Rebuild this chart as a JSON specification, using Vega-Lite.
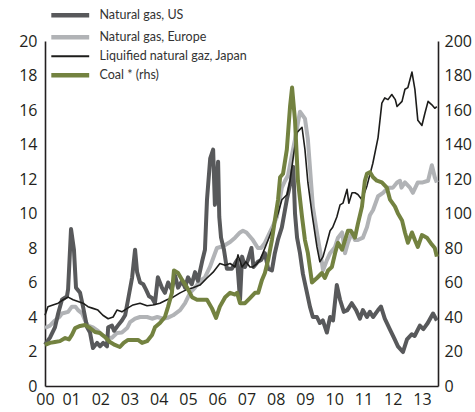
{
  "$schema": "https://vega.github.io/schema/vega-lite/v6.json",
  "width": 393,
  "height": 345,
  "autosize": {"type": "none"},
  "padding": {"left": 45, "top": 41, "right": 37, "bottom": 26},
  "background": "white",
  "config": {
    "view": {"stroke": null},
    "font": "Open Sans",
    "axis": {"grid": false, "ticks": false, "domainColor": "#231f20", "domainWidth": 1.6, "labelColor": "#231f20", "labelFontSize": 16, "title": null}
  },
  "datasets": {
    "gas": [
      {"t": 2000.11, "s": "Natural gas, US", "v": 2.4},
      {"t": 2000.28, "s": "Natural gas, US", "v": 2.8},
      {"t": 2000.45, "s": "Natural gas, US", "v": 3.4},
      {"t": 2000.56, "s": "Natural gas, US", "v": 4.2},
      {"t": 2000.69, "s": "Natural gas, US", "v": 5.0},
      {"t": 2000.86, "s": "Natural gas, US", "v": 5.2},
      {"t": 2000.9, "s": "Natural gas, US", "v": 5.6},
      {"t": 2001.0, "s": "Natural gas, US", "v": 9.1},
      {"t": 2001.1, "s": "Natural gas, US", "v": 7.9},
      {"t": 2001.17, "s": "Natural gas, US", "v": 5.7},
      {"t": 2001.31, "s": "Natural gas, US", "v": 5.4},
      {"t": 2001.41, "s": "Natural gas, US", "v": 4.6},
      {"t": 2001.55, "s": "Natural gas, US", "v": 3.4},
      {"t": 2001.65, "s": "Natural gas, US", "v": 3.1},
      {"t": 2001.75, "s": "Natural gas, US", "v": 2.2},
      {"t": 2001.89, "s": "Natural gas, US", "v": 2.5},
      {"t": 2001.99, "s": "Natural gas, US", "v": 2.3},
      {"t": 2002.1, "s": "Natural gas, US", "v": 2.5},
      {"t": 2002.23, "s": "Natural gas, US", "v": 2.3},
      {"t": 2002.27, "s": "Natural gas, US", "v": 3.4},
      {"t": 2002.4, "s": "Natural gas, US", "v": 3.5},
      {"t": 2002.47, "s": "Natural gas, US", "v": 3.2},
      {"t": 2002.6, "s": "Natural gas, US", "v": 3.5},
      {"t": 2002.74, "s": "Natural gas, US", "v": 3.8},
      {"t": 2002.85, "s": "Natural gas, US", "v": 4.1},
      {"t": 2002.95, "s": "Natural gas, US", "v": 5.0},
      {"t": 2003.09, "s": "Natural gas, US", "v": 6.3},
      {"t": 2003.19, "s": "Natural gas, US", "v": 7.9},
      {"t": 2003.26, "s": "Natural gas, US", "v": 6.6},
      {"t": 2003.36, "s": "Natural gas, US", "v": 6.0},
      {"t": 2003.47, "s": "Natural gas, US", "v": 5.9},
      {"t": 2003.56, "s": "Natural gas, US", "v": 5.6},
      {"t": 2003.67, "s": "Natural gas, US", "v": 5.2},
      {"t": 2003.77, "s": "Natural gas, US", "v": 5.1},
      {"t": 2003.87, "s": "Natural gas, US", "v": 4.8},
      {"t": 2003.97, "s": "Natural gas, US", "v": 6.3},
      {"t": 2004.11, "s": "Natural gas, US", "v": 5.7},
      {"t": 2004.21, "s": "Natural gas, US", "v": 5.4},
      {"t": 2004.32, "s": "Natural gas, US", "v": 6.0},
      {"t": 2004.44, "s": "Natural gas, US", "v": 5.6},
      {"t": 2004.56, "s": "Natural gas, US", "v": 6.4},
      {"t": 2004.66, "s": "Natural gas, US", "v": 5.7},
      {"t": 2004.8, "s": "Natural gas, US", "v": 6.1},
      {"t": 2004.9, "s": "Natural gas, US", "v": 5.7},
      {"t": 2005.0, "s": "Natural gas, US", "v": 6.3},
      {"t": 2005.13, "s": "Natural gas, US", "v": 5.9},
      {"t": 2005.24, "s": "Natural gas, US", "v": 6.6},
      {"t": 2005.34, "s": "Natural gas, US", "v": 6.1},
      {"t": 2005.48, "s": "Natural gas, US", "v": 7.2},
      {"t": 2005.58, "s": "Natural gas, US", "v": 7.9},
      {"t": 2005.65, "s": "Natural gas, US", "v": 10.8},
      {"t": 2005.76, "s": "Natural gas, US", "v": 13.2},
      {"t": 2005.86, "s": "Natural gas, US", "v": 13.7},
      {"t": 2005.92, "s": "Natural gas, US", "v": 10.5},
      {"t": 2006.03, "s": "Natural gas, US", "v": 13.0},
      {"t": 2006.07, "s": "Natural gas, US", "v": 9.8},
      {"t": 2006.13, "s": "Natural gas, US", "v": 8.6},
      {"t": 2006.23, "s": "Natural gas, US", "v": 7.9},
      {"t": 2006.33, "s": "Natural gas, US", "v": 6.8},
      {"t": 2006.5, "s": "Natural gas, US", "v": 6.8},
      {"t": 2006.68, "s": "Natural gas, US", "v": 7.3},
      {"t": 2006.78, "s": "Natural gas, US", "v": 5.0},
      {"t": 2006.85, "s": "Natural gas, US", "v": 7.5},
      {"t": 2006.95, "s": "Natural gas, US", "v": 6.9},
      {"t": 2007.05, "s": "Natural gas, US", "v": 7.3},
      {"t": 2007.17, "s": "Natural gas, US", "v": 8.0},
      {"t": 2007.24, "s": "Natural gas, US", "v": 6.9},
      {"t": 2007.39, "s": "Natural gas, US", "v": 7.2},
      {"t": 2007.5, "s": "Natural gas, US", "v": 7.3},
      {"t": 2007.63, "s": "Natural gas, US", "v": 7.7},
      {"t": 2007.74, "s": "Natural gas, US", "v": 6.8},
      {"t": 2007.87, "s": "Natural gas, US", "v": 6.7},
      {"t": 2007.97, "s": "Natural gas, US", "v": 7.7},
      {"t": 2008.08, "s": "Natural gas, US", "v": 8.5},
      {"t": 2008.21, "s": "Natural gas, US", "v": 9.2},
      {"t": 2008.38, "s": "Natural gas, US", "v": 10.8},
      {"t": 2008.52, "s": "Natural gas, US", "v": 11.9},
      {"t": 2008.6, "s": "Natural gas, US", "v": 12.7},
      {"t": 2008.66, "s": "Natural gas, US", "v": 10.0},
      {"t": 2008.73, "s": "Natural gas, US", "v": 8.6},
      {"t": 2008.83, "s": "Natural gas, US", "v": 7.7},
      {"t": 2008.93, "s": "Natural gas, US", "v": 6.5},
      {"t": 2009.07, "s": "Natural gas, US", "v": 5.4},
      {"t": 2009.17, "s": "Natural gas, US", "v": 4.6},
      {"t": 2009.27, "s": "Natural gas, US", "v": 4.0},
      {"t": 2009.41, "s": "Natural gas, US", "v": 4.0},
      {"t": 2009.51, "s": "Natural gas, US", "v": 3.65},
      {"t": 2009.61, "s": "Natural gas, US", "v": 3.8},
      {"t": 2009.75, "s": "Natural gas, US", "v": 3.1},
      {"t": 2009.86, "s": "Natural gas, US", "v": 4.0},
      {"t": 2009.96, "s": "Natural gas, US", "v": 3.8},
      {"t": 2010.09, "s": "Natural gas, US", "v": 5.85},
      {"t": 2010.2, "s": "Natural gas, US", "v": 5.0},
      {"t": 2010.33, "s": "Natural gas, US", "v": 4.3},
      {"t": 2010.45, "s": "Natural gas, US", "v": 4.4},
      {"t": 2010.6, "s": "Natural gas, US", "v": 4.8},
      {"t": 2010.75, "s": "Natural gas, US", "v": 4.4},
      {"t": 2010.88, "s": "Natural gas, US", "v": 3.9},
      {"t": 2010.98, "s": "Natural gas, US", "v": 4.4},
      {"t": 2011.12, "s": "Natural gas, US", "v": 4.0},
      {"t": 2011.22, "s": "Natural gas, US", "v": 4.3},
      {"t": 2011.33, "s": "Natural gas, US", "v": 4.0},
      {"t": 2011.5, "s": "Natural gas, US", "v": 4.4},
      {"t": 2011.6, "s": "Natural gas, US", "v": 4.6},
      {"t": 2011.73, "s": "Natural gas, US", "v": 3.9},
      {"t": 2011.9, "s": "Natural gas, US", "v": 3.3},
      {"t": 2012.07, "s": "Natural gas, US", "v": 2.7},
      {"t": 2012.18, "s": "Natural gas, US", "v": 2.3},
      {"t": 2012.35, "s": "Natural gas, US", "v": 1.97},
      {"t": 2012.49, "s": "Natural gas, US", "v": 2.7},
      {"t": 2012.65, "s": "Natural gas, US", "v": 3.0},
      {"t": 2012.75, "s": "Natural gas, US", "v": 2.9},
      {"t": 2012.93, "s": "Natural gas, US", "v": 3.5},
      {"t": 2013.05, "s": "Natural gas, US", "v": 3.3},
      {"t": 2013.2, "s": "Natural gas, US", "v": 3.65},
      {"t": 2013.38, "s": "Natural gas, US", "v": 4.2},
      {"t": 2013.51, "s": "Natural gas, US", "v": 3.8},

      {"t": 2000.11, "s": "Natural gas, Europe", "v": 3.36},
      {"t": 2000.28, "s": "Natural gas, Europe", "v": 3.5},
      {"t": 2000.45, "s": "Natural gas, Europe", "v": 3.8},
      {"t": 2000.6, "s": "Natural gas, Europe", "v": 4.0},
      {"t": 2000.69, "s": "Natural gas, Europe", "v": 4.2},
      {"t": 2000.9, "s": "Natural gas, Europe", "v": 4.3},
      {"t": 2001.03, "s": "Natural gas, Europe", "v": 4.6},
      {"t": 2001.15, "s": "Natural gas, Europe", "v": 4.6},
      {"t": 2001.24, "s": "Natural gas, Europe", "v": 4.4},
      {"t": 2001.38, "s": "Natural gas, Europe", "v": 4.2},
      {"t": 2001.48, "s": "Natural gas, Europe", "v": 3.8},
      {"t": 2001.58, "s": "Natural gas, Europe", "v": 3.5},
      {"t": 2001.75, "s": "Natural gas, Europe", "v": 3.4},
      {"t": 2001.92, "s": "Natural gas, Europe", "v": 3.2},
      {"t": 2002.06, "s": "Natural gas, Europe", "v": 2.96},
      {"t": 2002.23, "s": "Natural gas, Europe", "v": 2.8},
      {"t": 2002.4, "s": "Natural gas, Europe", "v": 2.8},
      {"t": 2002.57, "s": "Natural gas, Europe", "v": 3.07},
      {"t": 2002.74, "s": "Natural gas, Europe", "v": 3.1},
      {"t": 2002.92, "s": "Natural gas, Europe", "v": 3.36},
      {"t": 2003.02, "s": "Natural gas, Europe", "v": 3.7},
      {"t": 2003.19, "s": "Natural gas, Europe", "v": 3.9},
      {"t": 2003.36, "s": "Natural gas, Europe", "v": 4.0},
      {"t": 2003.6, "s": "Natural gas, Europe", "v": 4.0},
      {"t": 2003.77, "s": "Natural gas, Europe", "v": 3.9},
      {"t": 2003.95, "s": "Natural gas, Europe", "v": 4.0},
      {"t": 2004.15, "s": "Natural gas, Europe", "v": 3.9},
      {"t": 2004.3, "s": "Natural gas, Europe", "v": 3.95},
      {"t": 2004.49, "s": "Natural gas, Europe", "v": 4.1},
      {"t": 2004.73, "s": "Natural gas, Europe", "v": 4.4},
      {"t": 2004.9, "s": "Natural gas, Europe", "v": 4.8},
      {"t": 2005.07, "s": "Natural gas, Europe", "v": 5.4},
      {"t": 2005.24, "s": "Natural gas, Europe", "v": 5.7},
      {"t": 2005.41, "s": "Natural gas, Europe", "v": 6.1},
      {"t": 2005.58, "s": "Natural gas, Europe", "v": 6.3},
      {"t": 2005.75, "s": "Natural gas, Europe", "v": 6.9},
      {"t": 2005.99, "s": "Natural gas, Europe", "v": 8.0},
      {"t": 2006.2, "s": "Natural gas, Europe", "v": 8.1},
      {"t": 2006.44, "s": "Natural gas, Europe", "v": 8.35},
      {"t": 2006.61, "s": "Natural gas, Europe", "v": 8.6},
      {"t": 2006.78, "s": "Natural gas, Europe", "v": 8.9},
      {"t": 2006.88, "s": "Natural gas, Europe", "v": 9.0},
      {"t": 2007.0, "s": "Natural gas, Europe", "v": 8.9},
      {"t": 2007.22, "s": "Natural gas, Europe", "v": 8.46},
      {"t": 2007.39, "s": "Natural gas, Europe", "v": 8.0},
      {"t": 2007.5, "s": "Natural gas, Europe", "v": 8.0},
      {"t": 2007.63, "s": "Natural gas, Europe", "v": 8.3},
      {"t": 2007.8, "s": "Natural gas, Europe", "v": 8.9},
      {"t": 2007.91, "s": "Natural gas, Europe", "v": 9.3},
      {"t": 2008.04, "s": "Natural gas, Europe", "v": 9.8},
      {"t": 2008.21, "s": "Natural gas, Europe", "v": 11.5},
      {"t": 2008.32, "s": "Natural gas, Europe", "v": 11.9},
      {"t": 2008.42, "s": "Natural gas, Europe", "v": 12.2},
      {"t": 2008.52, "s": "Natural gas, Europe", "v": 13.1},
      {"t": 2008.66, "s": "Natural gas, Europe", "v": 14.3},
      {"t": 2008.83, "s": "Natural gas, Europe", "v": 15.9},
      {"t": 2009.0, "s": "Natural gas, Europe", "v": 15.5},
      {"t": 2009.1, "s": "Natural gas, Europe", "v": 14.3},
      {"t": 2009.27, "s": "Natural gas, Europe", "v": 10.4},
      {"t": 2009.41, "s": "Natural gas, Europe", "v": 8.9},
      {"t": 2009.51, "s": "Natural gas, Europe", "v": 7.9},
      {"t": 2009.62, "s": "Natural gas, Europe", "v": 6.7},
      {"t": 2009.75, "s": "Natural gas, Europe", "v": 7.3},
      {"t": 2009.86, "s": "Natural gas, Europe", "v": 7.7},
      {"t": 2010.03, "s": "Natural gas, Europe", "v": 8.06},
      {"t": 2010.13, "s": "Natural gas, Europe", "v": 8.6},
      {"t": 2010.27, "s": "Natural gas, Europe", "v": 8.9},
      {"t": 2010.37, "s": "Natural gas, Europe", "v": 7.7},
      {"t": 2010.47, "s": "Natural gas, Europe", "v": 8.3},
      {"t": 2010.61, "s": "Natural gas, Europe", "v": 8.9},
      {"t": 2010.71, "s": "Natural gas, Europe", "v": 8.46},
      {"t": 2010.81, "s": "Natural gas, Europe", "v": 8.46},
      {"t": 2010.98, "s": "Natural gas, Europe", "v": 8.6},
      {"t": 2011.12, "s": "Natural gas, Europe", "v": 9.2},
      {"t": 2011.22, "s": "Natural gas, Europe", "v": 9.9},
      {"t": 2011.33, "s": "Natural gas, Europe", "v": 10.2},
      {"t": 2011.5, "s": "Natural gas, Europe", "v": 11.0},
      {"t": 2011.67, "s": "Natural gas, Europe", "v": 11.2},
      {"t": 2011.84, "s": "Natural gas, Europe", "v": 11.5},
      {"t": 2012.01, "s": "Natural gas, Europe", "v": 11.5},
      {"t": 2012.15, "s": "Natural gas, Europe", "v": 11.8},
      {"t": 2012.25, "s": "Natural gas, Europe", "v": 11.9},
      {"t": 2012.3, "s": "Natural gas, Europe", "v": 11.5},
      {"t": 2012.42, "s": "Natural gas, Europe", "v": 11.8},
      {"t": 2012.59, "s": "Natural gas, Europe", "v": 11.5},
      {"t": 2012.69, "s": "Natural gas, Europe", "v": 11.2},
      {"t": 2012.86, "s": "Natural gas, Europe", "v": 11.8},
      {"t": 2013.03, "s": "Natural gas, Europe", "v": 11.8},
      {"t": 2013.21, "s": "Natural gas, Europe", "v": 11.9},
      {"t": 2013.34, "s": "Natural gas, Europe", "v": 12.8},
      {"t": 2013.44, "s": "Natural gas, Europe", "v": 12.1},
      {"t": 2013.51, "s": "Natural gas, Europe", "v": 11.8},

      {"t": 2000.11, "s": "Liquified natural gaz, Japan", "v": 4.1},
      {"t": 2000.21, "s": "Liquified natural gaz, Japan", "v": 4.6},
      {"t": 2000.38, "s": "Liquified natural gaz, Japan", "v": 4.7},
      {"t": 2000.56, "s": "Liquified natural gaz, Japan", "v": 4.8},
      {"t": 2000.73, "s": "Liquified natural gaz, Japan", "v": 5.0},
      {"t": 2000.9, "s": "Liquified natural gaz, Japan", "v": 5.15},
      {"t": 2001.07, "s": "Liquified natural gaz, Japan", "v": 5.0},
      {"t": 2001.24, "s": "Liquified natural gaz, Japan", "v": 4.9},
      {"t": 2001.41, "s": "Liquified natural gaz, Japan", "v": 4.8},
      {"t": 2001.58, "s": "Liquified natural gaz, Japan", "v": 4.6},
      {"t": 2001.75, "s": "Liquified natural gaz, Japan", "v": 4.5},
      {"t": 2001.92, "s": "Liquified natural gaz, Japan", "v": 4.4},
      {"t": 2002.09, "s": "Liquified natural gaz, Japan", "v": 4.1},
      {"t": 2002.27, "s": "Liquified natural gaz, Japan", "v": 3.9},
      {"t": 2002.44, "s": "Liquified natural gaz, Japan", "v": 4.0},
      {"t": 2002.57, "s": "Liquified natural gaz, Japan", "v": 4.4},
      {"t": 2002.74, "s": "Liquified natural gaz, Japan", "v": 4.3},
      {"t": 2002.92, "s": "Liquified natural gaz, Japan", "v": 4.5},
      {"t": 2003.12, "s": "Liquified natural gaz, Japan", "v": 4.7},
      {"t": 2003.36, "s": "Liquified natural gaz, Japan", "v": 4.8},
      {"t": 2003.6, "s": "Liquified natural gaz, Japan", "v": 4.65},
      {"t": 2003.8, "s": "Liquified natural gaz, Japan", "v": 4.7},
      {"t": 2004.04, "s": "Liquified natural gaz, Japan", "v": 4.8},
      {"t": 2004.28, "s": "Liquified natural gaz, Japan", "v": 5.0},
      {"t": 2004.49, "s": "Liquified natural gaz, Japan", "v": 5.15},
      {"t": 2004.73, "s": "Liquified natural gaz, Japan", "v": 5.4},
      {"t": 2004.97, "s": "Liquified natural gaz, Japan", "v": 5.6},
      {"t": 2005.17, "s": "Liquified natural gaz, Japan", "v": 5.7},
      {"t": 2005.41, "s": "Liquified natural gaz, Japan", "v": 5.85},
      {"t": 2005.65, "s": "Liquified natural gaz, Japan", "v": 6.26},
      {"t": 2005.86, "s": "Liquified natural gaz, Japan", "v": 6.6},
      {"t": 2006.09, "s": "Liquified natural gaz, Japan", "v": 7.1},
      {"t": 2006.27, "s": "Liquified natural gaz, Japan", "v": 7.0},
      {"t": 2006.44, "s": "Liquified natural gaz, Japan", "v": 7.1},
      {"t": 2006.61, "s": "Liquified natural gaz, Japan", "v": 6.9},
      {"t": 2006.71, "s": "Liquified natural gaz, Japan", "v": 7.6},
      {"t": 2006.85, "s": "Liquified natural gaz, Japan", "v": 6.9},
      {"t": 2006.98, "s": "Liquified natural gaz, Japan", "v": 7.2},
      {"t": 2007.12, "s": "Liquified natural gaz, Japan", "v": 6.9},
      {"t": 2007.22, "s": "Liquified natural gaz, Japan", "v": 6.9},
      {"t": 2007.36, "s": "Liquified natural gaz, Japan", "v": 7.1},
      {"t": 2007.46, "s": "Liquified natural gaz, Japan", "v": 7.3},
      {"t": 2007.56, "s": "Liquified natural gaz, Japan", "v": 7.7},
      {"t": 2007.74, "s": "Liquified natural gaz, Japan", "v": 8.46},
      {"t": 2007.91, "s": "Liquified natural gaz, Japan", "v": 9.2},
      {"t": 2008.08, "s": "Liquified natural gaz, Japan", "v": 10.0},
      {"t": 2008.21, "s": "Liquified natural gaz, Japan", "v": 10.8},
      {"t": 2008.39, "s": "Liquified natural gaz, Japan", "v": 11.1},
      {"t": 2008.49, "s": "Liquified natural gaz, Japan", "v": 11.9},
      {"t": 2008.62, "s": "Liquified natural gaz, Japan", "v": 13.5},
      {"t": 2008.73, "s": "Liquified natural gaz, Japan", "v": 14.7},
      {"t": 2008.9, "s": "Liquified natural gaz, Japan", "v": 15.0},
      {"t": 2009.0, "s": "Liquified natural gaz, Japan", "v": 13.7},
      {"t": 2009.1, "s": "Liquified natural gaz, Japan", "v": 11.8},
      {"t": 2009.24, "s": "Liquified natural gaz, Japan", "v": 10.0},
      {"t": 2009.41, "s": "Liquified natural gaz, Japan", "v": 8.06},
      {"t": 2009.51, "s": "Liquified natural gaz, Japan", "v": 7.2},
      {"t": 2009.62, "s": "Liquified natural gaz, Japan", "v": 7.5},
      {"t": 2009.75, "s": "Liquified natural gaz, Japan", "v": 8.3},
      {"t": 2009.86, "s": "Liquified natural gaz, Japan", "v": 9.0},
      {"t": 2009.95, "s": "Liquified natural gaz, Japan", "v": 9.2},
      {"t": 2010.09, "s": "Liquified natural gaz, Japan", "v": 9.8},
      {"t": 2010.2, "s": "Liquified natural gaz, Japan", "v": 10.5},
      {"t": 2010.3, "s": "Liquified natural gaz, Japan", "v": 10.6},
      {"t": 2010.44, "s": "Liquified natural gaz, Japan", "v": 11.4},
      {"t": 2010.5, "s": "Liquified natural gaz, Japan", "v": 10.6},
      {"t": 2010.61, "s": "Liquified natural gaz, Japan", "v": 11.2},
      {"t": 2010.71, "s": "Liquified natural gaz, Japan", "v": 11.2},
      {"t": 2010.81, "s": "Liquified natural gaz, Japan", "v": 11.1},
      {"t": 2010.95, "s": "Liquified natural gaz, Japan", "v": 10.8},
      {"t": 2011.12, "s": "Liquified natural gaz, Japan", "v": 11.6},
      {"t": 2011.32, "s": "Liquified natural gaz, Japan", "v": 12.9},
      {"t": 2011.5, "s": "Liquified natural gaz, Japan", "v": 14.4},
      {"t": 2011.63, "s": "Liquified natural gaz, Japan", "v": 16.4},
      {"t": 2011.73, "s": "Liquified natural gaz, Japan", "v": 16.7},
      {"t": 2011.84, "s": "Liquified natural gaz, Japan", "v": 16.6},
      {"t": 2011.97, "s": "Liquified natural gaz, Japan", "v": 16.9},
      {"t": 2012.09, "s": "Liquified natural gaz, Japan", "v": 16.6},
      {"t": 2012.15, "s": "Liquified natural gaz, Japan", "v": 16.2},
      {"t": 2012.32, "s": "Liquified natural gaz, Japan", "v": 16.5},
      {"t": 2012.42, "s": "Liquified natural gaz, Japan", "v": 17.2},
      {"t": 2012.52, "s": "Liquified natural gaz, Japan", "v": 17.3},
      {"t": 2012.66, "s": "Liquified natural gaz, Japan", "v": 18.2},
      {"t": 2012.76, "s": "Liquified natural gaz, Japan", "v": 17.2},
      {"t": 2012.86, "s": "Liquified natural gaz, Japan", "v": 15.4},
      {"t": 2013.0, "s": "Liquified natural gaz, Japan", "v": 15.1},
      {"t": 2013.1, "s": "Liquified natural gaz, Japan", "v": 15.8},
      {"t": 2013.21, "s": "Liquified natural gaz, Japan", "v": 16.5},
      {"t": 2013.34, "s": "Liquified natural gaz, Japan", "v": 16.3},
      {"t": 2013.44, "s": "Liquified natural gaz, Japan", "v": 16.1},
      {"t": 2013.51, "s": "Liquified natural gaz, Japan", "v": 16.2}
    ],
    "coal": [
      {"t": 2000.11, "s": "Coal * (rhs)", "v": 23.8},
      {"t": 2000.28, "s": "Coal * (rhs)", "v": 25},
      {"t": 2000.45, "s": "Coal * (rhs)", "v": 25.5},
      {"t": 2000.62, "s": "Coal * (rhs)", "v": 26},
      {"t": 2000.8, "s": "Coal * (rhs)", "v": 27.8},
      {"t": 2000.93, "s": "Coal * (rhs)", "v": 27},
      {"t": 2001.03, "s": "Coal * (rhs)", "v": 29.6},
      {"t": 2001.14, "s": "Coal * (rhs)", "v": 33.6},
      {"t": 2001.31, "s": "Coal * (rhs)", "v": 34.8},
      {"t": 2001.48, "s": "Coal * (rhs)", "v": 35.4},
      {"t": 2001.65, "s": "Coal * (rhs)", "v": 33.6},
      {"t": 2001.82, "s": "Coal * (rhs)", "v": 31.3},
      {"t": 2001.99, "s": "Coal * (rhs)", "v": 30.7},
      {"t": 2002.16, "s": "Coal * (rhs)", "v": 28.4},
      {"t": 2002.33, "s": "Coal * (rhs)", "v": 25.5},
      {"t": 2002.5, "s": "Coal * (rhs)", "v": 23.8},
      {"t": 2002.67, "s": "Coal * (rhs)", "v": 22.6},
      {"t": 2002.8, "s": "Coal * (rhs)", "v": 25},
      {"t": 2002.95, "s": "Coal * (rhs)", "v": 26.7},
      {"t": 2003.12, "s": "Coal * (rhs)", "v": 26.7},
      {"t": 2003.29, "s": "Coal * (rhs)", "v": 26.7},
      {"t": 2003.43, "s": "Coal * (rhs)", "v": 25},
      {"t": 2003.6, "s": "Coal * (rhs)", "v": 26},
      {"t": 2003.77, "s": "Coal * (rhs)", "v": 29.6},
      {"t": 2003.87, "s": "Coal * (rhs)", "v": 34},
      {"t": 2004.04, "s": "Coal * (rhs)", "v": 36.5},
      {"t": 2004.21, "s": "Coal * (rhs)", "v": 40},
      {"t": 2004.32, "s": "Coal * (rhs)", "v": 46},
      {"t": 2004.45, "s": "Coal * (rhs)", "v": 54},
      {"t": 2004.52, "s": "Coal * (rhs)", "v": 67},
      {"t": 2004.66, "s": "Coal * (rhs)", "v": 65.5},
      {"t": 2004.8, "s": "Coal * (rhs)", "v": 61.5},
      {"t": 2004.97, "s": "Coal * (rhs)", "v": 57},
      {"t": 2005.14, "s": "Coal * (rhs)", "v": 51.5},
      {"t": 2005.31, "s": "Coal * (rhs)", "v": 50},
      {"t": 2005.48, "s": "Coal * (rhs)", "v": 50},
      {"t": 2005.65, "s": "Coal * (rhs)", "v": 50},
      {"t": 2005.82, "s": "Coal * (rhs)", "v": 45},
      {"t": 2005.96, "s": "Coal * (rhs)", "v": 39.5},
      {"t": 2006.09, "s": "Coal * (rhs)", "v": 46},
      {"t": 2006.27, "s": "Coal * (rhs)", "v": 51.5},
      {"t": 2006.44, "s": "Coal * (rhs)", "v": 54},
      {"t": 2006.61, "s": "Coal * (rhs)", "v": 53},
      {"t": 2006.68, "s": "Coal * (rhs)", "v": 54},
      {"t": 2006.78, "s": "Coal * (rhs)", "v": 48},
      {"t": 2006.95, "s": "Coal * (rhs)", "v": 48},
      {"t": 2007.12, "s": "Coal * (rhs)", "v": 51},
      {"t": 2007.29, "s": "Coal * (rhs)", "v": 54},
      {"t": 2007.4, "s": "Coal * (rhs)", "v": 54},
      {"t": 2007.53, "s": "Coal * (rhs)", "v": 61.5},
      {"t": 2007.63, "s": "Coal * (rhs)", "v": 65.5},
      {"t": 2007.74, "s": "Coal * (rhs)", "v": 73},
      {"t": 2007.87, "s": "Coal * (rhs)", "v": 84.6},
      {"t": 2007.97, "s": "Coal * (rhs)", "v": 96},
      {"t": 2008.08, "s": "Coal * (rhs)", "v": 108},
      {"t": 2008.15, "s": "Coal * (rhs)", "v": 121},
      {"t": 2008.25, "s": "Coal * (rhs)", "v": 123},
      {"t": 2008.38, "s": "Coal * (rhs)", "v": 137},
      {"t": 2008.49, "s": "Coal * (rhs)", "v": 162},
      {"t": 2008.56, "s": "Coal * (rhs)", "v": 173},
      {"t": 2008.66, "s": "Coal * (rhs)", "v": 154},
      {"t": 2008.76, "s": "Coal * (rhs)", "v": 119},
      {"t": 2008.9, "s": "Coal * (rhs)", "v": 98},
      {"t": 2009.0, "s": "Coal * (rhs)", "v": 84.6},
      {"t": 2009.1, "s": "Coal * (rhs)", "v": 77},
      {"t": 2009.24, "s": "Coal * (rhs)", "v": 60},
      {"t": 2009.41, "s": "Coal * (rhs)", "v": 62.6},
      {"t": 2009.58, "s": "Coal * (rhs)", "v": 65.5},
      {"t": 2009.68, "s": "Coal * (rhs)", "v": 62.6},
      {"t": 2009.79, "s": "Coal * (rhs)", "v": 67},
      {"t": 2009.92, "s": "Coal * (rhs)", "v": 69},
      {"t": 2010.03, "s": "Coal * (rhs)", "v": 77},
      {"t": 2010.13, "s": "Coal * (rhs)", "v": 83},
      {"t": 2010.27, "s": "Coal * (rhs)", "v": 79},
      {"t": 2010.37, "s": "Coal * (rhs)", "v": 84.6},
      {"t": 2010.47, "s": "Coal * (rhs)", "v": 90},
      {"t": 2010.57, "s": "Coal * (rhs)", "v": 90},
      {"t": 2010.71, "s": "Coal * (rhs)", "v": 86},
      {"t": 2010.81, "s": "Coal * (rhs)", "v": 94},
      {"t": 2010.95, "s": "Coal * (rhs)", "v": 104},
      {"t": 2011.05, "s": "Coal * (rhs)", "v": 119},
      {"t": 2011.12, "s": "Coal * (rhs)", "v": 123},
      {"t": 2011.22, "s": "Coal * (rhs)", "v": 124},
      {"t": 2011.33, "s": "Coal * (rhs)", "v": 121},
      {"t": 2011.46, "s": "Coal * (rhs)", "v": 119},
      {"t": 2011.63, "s": "Coal * (rhs)", "v": 118},
      {"t": 2011.8, "s": "Coal * (rhs)", "v": 115},
      {"t": 2011.91, "s": "Coal * (rhs)", "v": 108},
      {"t": 2012.08, "s": "Coal * (rhs)", "v": 104},
      {"t": 2012.18, "s": "Coal * (rhs)", "v": 100},
      {"t": 2012.32, "s": "Coal * (rhs)", "v": 96},
      {"t": 2012.42, "s": "Coal * (rhs)", "v": 89},
      {"t": 2012.52, "s": "Coal * (rhs)", "v": 83},
      {"t": 2012.66, "s": "Coal * (rhs)", "v": 89},
      {"t": 2012.76, "s": "Coal * (rhs)", "v": 84.6},
      {"t": 2012.86, "s": "Coal * (rhs)", "v": 80.6},
      {"t": 2013.0, "s": "Coal * (rhs)", "v": 87.5},
      {"t": 2013.17, "s": "Coal * (rhs)", "v": 86},
      {"t": 2013.34, "s": "Coal * (rhs)", "v": 82},
      {"t": 2013.44, "s": "Coal * (rhs)", "v": 80},
      {"t": 2013.51, "s": "Coal * (rhs)", "v": 75}
    ]
  },
  "encoding": {
    "x": {
      "field": "t",
      "type": "quantitative",
      "scale": {"domain": [2000.11, 2013.55], "nice": false, "zero": false},
      "axis": {
        "values": [2000.11, 2001, 2002, 2003, 2004, 2005, 2006, 2007, 2008, 2009, 2010, 2011, 2012, 2013],
        "labelExpr": "slice('0' + (floor(datum.value) - 2000), -2)",
        "labelFlush": false,
        "labelBound": false,
        "labelPadding": 5,
        "labelOverlap": false
      }
    },
    "color": {
      "field": "s",
      "type": "nominal",
      "scale": {
        "domain": ["Natural gas, US", "Natural gas, Europe", "Liquified natural gaz, Japan", "Coal * (rhs)"],
        "range": ["#58595b", "#b1b3b6", "#1d1d1b", "#738240"]
      },
      "legend": {
        "title": null,
        "orient": "none",
        "legendX": 19,
        "legendY": -32,
        "symbolType": "stroke",
        "symbolSize": 1435,
        "symbolStrokeWidth": 4,
        "labelFont": "Lato",
        "labelFontSize": 12.5,
        "labelColor": "#333333",
        "labelOffset": 23,
        "labelLimit": 300,
        "rowPadding": 3,
        "encode": {
          "symbols": {
            "update": {
              "strokeWidth": {"signal": "datum.value === 'Liquified natural gaz, Japan' ? 1.8 : 4.5"}
            }
          }
        }
      }
    },
    "order": {"field": "t", "type": "quantitative"}
  },
  "layer": [
    {
      "layer": [
        {
          "data": {"name": "gas"},
          "transform": [{"filter": "datum.s === 'Natural gas, Europe'"}],
          "mark": {"type": "line", "strokeWidth": 4, "strokeJoin": "round"}
        },
        {
          "data": {"name": "gas"},
          "transform": [{"filter": "datum.s === 'Natural gas, US'"}],
          "mark": {"type": "line", "strokeWidth": 4, "strokeJoin": "round"}
        },
        {
          "data": {"name": "gas"},
          "transform": [{"filter": "datum.s === 'Liquified natural gaz, Japan'"}],
          "mark": {"type": "line", "strokeWidth": 1.6, "strokeJoin": "round"}
        }
      ],
      "encoding": {
        "y": {
          "field": "v",
          "type": "quantitative",
          "scale": {"domain": [0, 20], "nice": false},
          "axis": {"orient": "left", "values": [0, 2, 4, 6, 8, 10, 12, 14, 16, 18, 20], "labelPadding": 8}
        }
      }
    },
    {
      "data": {"name": "coal"},
      "mark": {"type": "line", "strokeWidth": 4, "strokeJoin": "round"},
      "encoding": {
        "y": {
          "field": "v",
          "type": "quantitative",
          "scale": {"domain": [0, 200], "nice": false},
          "axis": {"orient": "right", "values": [0, 20, 40, 60, 80, 100, 120, 140, 160, 180, 200], "labelPadding": 6}
        }
      }
    }
  ],
  "resolve": {"scale": {"y": "independent"}}
}
